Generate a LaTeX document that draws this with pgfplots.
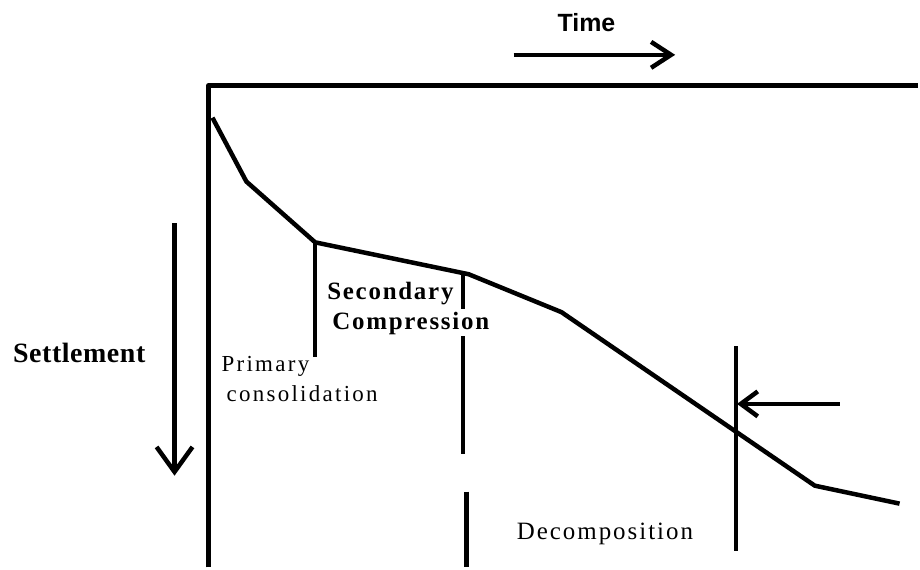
\documentclass[border=0pt]{standalone}
\usepackage{fontspec}
\setmainfont{Liberation Serif}
\newfontfamily\timefont{Liberation Sans}
\usepackage{pgfplots}
\pgfplotsset{compat=1.18}
\usetikzlibrary{arrows.meta}
\begin{document}
\begin{tikzpicture}
\begin{axis}[
    width=920pt, height=569pt, scale only axis,
    xmin=0, xmax=920, ymin=0, ymax=569,
    y dir=reverse,
    hide axis, clip=false,
    ln/.style={black, solid, mark=none, line width=4.5pt, line join=round},
  ]
  % frame corners, keeps the page size
  \addplot[draw=none] coordinates {(0,0) (920,569)};

  % axes (time along the top, settlement downwards)
  \addplot[ln, line width=5pt] coordinates {(209,569) (209,86) (920,86)};

  % settlement curve
  \addplot[ln] coordinates {(213,118) (247,182) (316,243) (470,275) (563,313) (817,487) (902,505)};

  % stage boundaries
  \addplot[ln] coordinates {(316,243) (316,358)};
  \addplot[ln] coordinates {(464,275) (464,310)};
  \addplot[ln] coordinates {(464,337) (464,455)};
  \addplot[ln] coordinates {(468,493) (468,569)};
  \addplot[ln] coordinates {(738,347) (738,552)};

  % arrows
  \addplot[ln, -{Straight Barb[length=20pt,width=26pt,line width=4.5pt]}] coordinates {(515,55) (677,55)};
  \addplot[ln, -{Straight Barb[length=25pt,width=36pt,line width=4.5pt]}] coordinates {(175,224) (175,477)};
  \addplot[ln, -{Straight Barb[length=17pt,width=25pt,line width=4.5pt]}] coordinates {(842,405) (739,405)};

  % labels
  \node[anchor=base, font=\timefont\fontsize{25}{28}\selectfont\bfseries] at (axis cs:588,32) {Time};
  \node[anchor=base west, inner sep=0pt, font=\fontsize{28}{30}\selectfont\bfseries\addfontfeature{LetterSpace=2}] at (axis cs:13,363) {Settlement};
  \node[anchor=base west, inner sep=0pt, font=\fontsize{25}{28}\selectfont\bfseries\addfontfeature{LetterSpace=7}] at (axis cs:328,300) {Secondary};
  \node[anchor=base west, inner sep=0pt, font=\fontsize{25}{28}\selectfont\bfseries\addfontfeature{LetterSpace=7}] at (axis cs:333,330) {Compression};
  \node[anchor=base west, inner sep=0pt, font=\fontsize{23}{26}\selectfont\addfontfeature{LetterSpace=10}] at (axis cs:222,373) {Primary};
  \node[anchor=base west, inner sep=0pt, font=\fontsize{23}{26}\selectfont\addfontfeature{LetterSpace=10}] at (axis cs:227,403) {consolidation};
  \node[anchor=base west, inner sep=0pt, font=\fontsize{25}{28}\selectfont\addfontfeature{LetterSpace=8}] at (axis cs:518,541) {Decomposition};
\end{axis}
\end{tikzpicture}
\end{document}
